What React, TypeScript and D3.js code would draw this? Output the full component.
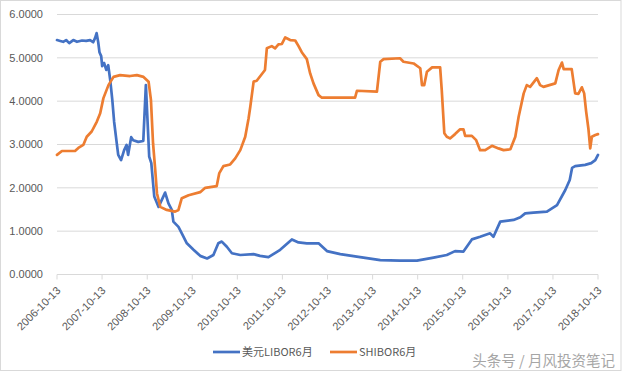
import React from "react";
import * as d3 from "d3";

const W = 624;
const H = 372;
const plot = { left: 57, right: 598, top: 14.5, bottom: 274.5 };

const seriesNames = ["美元LIBOR6月", "SHIBOR6月"];
const seriesColors = ["#4472C4", "#ED7D31"];
const yTicks = [0, 1, 2, 3, 4, 5, 6];
const xTickLabels = [
  "2006-10-13", "2007-10-13", "2008-10-13", "2009-10-13", "2010-10-13",
  "2011-10-13", "2012-10-13", "2013-10-13", "2014-10-13", "2015-10-13",
  "2016-10-13", "2017-10-13", "2018-10-13",
];
const watermark = "头条号 / 月风投资笔记";

// 美元LIBOR 6个月
const libor: [string, number][] = [
  ["2006-10-13", 5.41], ["2006-11-08", 5.39], ["2006-12-02", 5.37], ["2006-12-26", 5.41],
  ["2007-01-20", 5.34], ["2007-02-22", 5.41], ["2007-03-24", 5.37], ["2007-05-04", 5.40],
  ["2007-06-06", 5.39], ["2007-07-08", 5.41], ["2007-08-02", 5.36], ["2007-08-18", 5.46],
  ["2007-08-30", 5.57], ["2007-09-12", 5.36], ["2007-09-22", 5.13], ["2007-10-06", 5.04],
  ["2007-10-14", 4.81], ["2007-10-30", 4.88], ["2007-11-16", 4.72], ["2007-12-02", 4.83],
  ["2007-12-18", 4.49], ["2008-01-04", 4.03], ["2008-01-19", 3.52], ["2008-02-06", 3.10],
  ["2008-02-21", 2.76], ["2008-03-15", 2.64], ["2008-04-09", 2.87], ["2008-04-29", 2.99],
  ["2008-05-11", 2.76], ["2008-06-05", 3.17], ["2008-06-21", 3.10], ["2008-08-01", 3.06],
  ["2008-09-11", 3.08], ["2008-10-02", 4.37], ["2008-10-29", 2.72], ["2008-11-15", 2.57],
  ["2008-12-09", 1.80], ["2009-01-13", 1.56], ["2009-03-07", 1.89], ["2009-04-03", 1.64],
  ["2009-04-30", 1.49], ["2009-05-13", 1.22], ["2009-06-23", 1.10], ["2009-07-20", 0.95],
  ["2009-08-30", 0.72], ["2009-10-23", 0.57], ["2009-12-16", 0.43], ["2010-02-10", 0.37],
  ["2010-04-02", 0.45], ["2010-05-12", 0.72], ["2010-06-09", 0.76], ["2010-07-20", 0.64],
  ["2010-08-30", 0.49], ["2010-11-06", 0.45], ["2011-02-22", 0.47], ["2011-04-15", 0.43],
  ["2011-06-22", 0.40], ["2011-09-25", 0.57], ["2011-12-29", 0.81], ["2012-02-21", 0.74],
  ["2012-04-28", 0.72], ["2012-08-01", 0.72], ["2012-10-08", 0.54], ["2013-01-24", 0.47],
  ["2013-07-04", 0.40], ["2013-12-14", 0.33], ["2014-05-23", 0.32], ["2014-10-07", 0.32],
  ["2015-02-19", 0.39], ["2015-06-06", 0.45], ["2015-08-12", 0.54], ["2015-10-19", 0.53],
  ["2015-12-26", 0.81], ["2016-03-02", 0.87], ["2016-05-22", 0.95], ["2016-06-18", 0.87],
  ["2016-08-12", 1.22], ["2016-11-28", 1.26], ["2017-01-22", 1.32], ["2017-03-02", 1.41],
  ["2017-05-08", 1.43], ["2017-08-25", 1.45], ["2017-11-15", 1.60], ["2018-01-21", 1.95],
  ["2018-02-26", 2.18], ["2018-03-17", 2.46], ["2018-04-11", 2.50], ["2018-07-01", 2.53],
  ["2018-08-19", 2.57], ["2018-09-21", 2.64], ["2018-10-13", 2.76],
];

// SHIBOR 6个月
const shibor: [string, number][] = [
  ["2006-10-13", 2.76], ["2006-11-22", 2.85], ["2007-03-08", 2.85], ["2007-04-04", 2.92],
  ["2007-05-14", 2.99], ["2007-06-11", 3.18], ["2007-07-21", 3.30], ["2007-09-01", 3.53],
  ["2007-09-28", 3.72], ["2007-10-24", 4.07], ["2007-12-04", 4.37], ["2008-01-14", 4.56],
  ["2008-03-07", 4.60], ["2008-05-27", 4.58], ["2008-07-21", 4.60], ["2008-09-13", 4.56],
  ["2008-10-24", 4.45], ["2008-11-12", 4.03], ["2008-11-29", 3.03], ["2008-12-17", 2.41],
  ["2008-12-31", 1.87], ["2009-01-27", 1.56], ["2009-03-20", 1.49], ["2009-05-27", 1.45],
  ["2009-06-23", 1.49], ["2009-07-20", 1.76], ["2009-09-13", 1.83], ["2009-12-16", 1.90],
  ["2010-01-26", 2.00], ["2010-04-29", 2.04], ["2010-05-20", 2.34], ["2010-06-22", 2.50],
  ["2010-08-16", 2.54], ["2010-09-26", 2.68], ["2010-11-06", 2.87], ["2010-12-16", 3.18],
  ["2011-01-12", 3.60], ["2011-01-26", 3.87], ["2011-02-22", 4.45], ["2011-03-19", 4.47],
  ["2011-05-25", 4.72], ["2011-06-09", 5.22], ["2011-07-19", 5.27], ["2011-08-15", 5.22],
  ["2011-09-11", 5.31], ["2011-10-09", 5.32], ["2011-11-05", 5.47], ["2011-12-15", 5.41],
  ["2012-01-25", 5.40], ["2012-02-21", 5.27], ["2012-03-18", 5.13], ["2012-04-28", 4.97],
  ["2012-05-25", 4.64], ["2012-06-21", 4.41], ["2012-08-01", 4.14], ["2012-08-28", 4.08],
  ["2013-05-24", 4.08], ["2013-06-08", 4.24], ["2013-11-17", 4.22], ["2013-12-14", 4.91],
  ["2014-01-10", 4.97], ["2014-05-23", 4.99], ["2014-06-20", 4.91], ["2014-09-10", 4.87],
  ["2014-11-03", 4.76], ["2014-11-17", 4.37], ["2014-12-05", 4.37], ["2014-12-27", 4.68],
  ["2015-02-07", 4.78], ["2015-04-13", 4.78], ["2015-04-26", 4.26], ["2015-05-17", 3.26],
  ["2015-06-06", 3.18], ["2015-07-02", 3.14], ["2015-08-12", 3.24], ["2015-09-22", 3.35],
  ["2015-10-19", 3.35], ["2015-11-02", 3.20], ["2015-12-26", 3.20], ["2016-01-30", 3.10],
  ["2016-03-02", 2.87], ["2016-04-12", 2.87], ["2016-06-06", 2.97], ["2016-07-29", 2.91],
  ["2016-09-08", 2.87], ["2016-11-02", 2.89], ["2016-12-12", 3.18], ["2017-01-08", 3.64],
  ["2017-02-18", 4.18], ["2017-03-15", 4.37], ["2017-04-11", 4.33], ["2017-06-05", 4.53],
  ["2017-07-01", 4.37], ["2017-07-28", 4.33], ["2017-11-01", 4.41], ["2017-11-28", 4.72],
  ["2017-12-25", 4.89], ["2018-01-08", 4.74], ["2018-03-14", 4.74], ["2018-04-11", 4.18],
  ["2018-05-07", 4.17], ["2018-06-04", 4.32], ["2018-06-23", 4.18], ["2018-07-09", 3.76],
  ["2018-07-27", 3.37], ["2018-08-11", 2.91], ["2018-08-24", 3.18], ["2018-09-21", 3.22],
  ["2018-10-13", 3.24],
];

const parse = d3.timeParse("%Y-%m-%d");
const labelFont = "'Liberation Sans', Arial, sans-serif";

export default function App() {
  const x = d3
    .scaleTime()
    .domain([parse(xTickLabels[0])!, parse(xTickLabels[xTickLabels.length - 1])!])
    .range([plot.left, plot.right]);
  const y = d3.scaleLinear().domain([0, 6]).range([plot.bottom, plot.top]);

  const line = d3
    .line<[string, number]>()
    .x(d => x(parse(d[0])!))
    .y(d => y(d[1]));

  const series = [libor, shibor];

  return (
    <svg
      width={W}
      height={H}
      style={{ position: "absolute", left: 0, top: 0, background: "#fff" }}
    >
      <rect x={0.5} y={0.5} width={620.5} height={370} fill="#fff" stroke="#d9d9d9" />

      {/* gridlines */}
      {yTicks.slice(1).map(t => (
        <line key={t} x1={plot.left} x2={plot.right} y1={y(t)} y2={y(t)} stroke="#d9d9d9" strokeWidth={1} />
      ))}

      {/* x axis */}
      <line x1={plot.left} x2={plot.right} y1={y(0)} y2={y(0)} stroke="#d9d9d9" />
      {xTickLabels.map(lbl => {
        const tx = x(parse(lbl)!);
        return (
          <g key={lbl}>
            <line x1={tx} x2={tx} y1={y(0)} y2={y(0) + 5} stroke="#d9d9d9" />
            <text
              transform={`translate(${tx + 1.5},${y(0) + 14}) rotate(-45)`}
              textAnchor="end"
              dy="0.35em"
              fontSize={11}
              fontFamily={labelFont}
              fill="#595959"
            >
              {lbl}
            </text>
          </g>
        );
      })}

      {/* y labels */}
      {yTicks.map(t => (
        <text
          key={t}
          x={43}
          y={y(t)}
          dy="0.35em"
          textAnchor="end"
          fontSize={11}
          fontFamily={labelFont}
          fill="#595959"
        >
          {d3.format(".4f")(t)}
        </text>
      ))}

      {/* series */}
      {series.map((s, i) => (
        <path
          key={seriesNames[i]}
          d={line(s) || ""}
          fill="none"
          stroke={seriesColors[i]}
          strokeWidth={2.7}
          strokeLinejoin="round"
          strokeLinecap="round"
        />
      ))}

      {/* legend */}
      {seriesNames.map((name, i) => {
        const lx = i === 0 ? 213 : 330;
        return (
          <g key={name}>
            <line x1={lx} x2={lx + 27} y1={352} y2={352} stroke={seriesColors[i]} strokeWidth={2.7} />
            <text
              x={lx + 29}
              y={352}
              dy="0.35em"
              fontSize={11}
              fontFamily="'Noto Sans CJK SC', 'Liberation Sans', sans-serif"
              fill="#595959"
            >
              {name}
            </text>
          </g>
        );
      })}

      {/* watermark */}
      <text
        x={615}
        y={361}
        dy="0.35em"
        textAnchor="end"
        fontSize={14.5}
        fontFamily="'Noto Sans CJK SC', sans-serif"
        fill="#a6a6a6"
      >
        {watermark}
      </text>
    </svg>
  );
}
